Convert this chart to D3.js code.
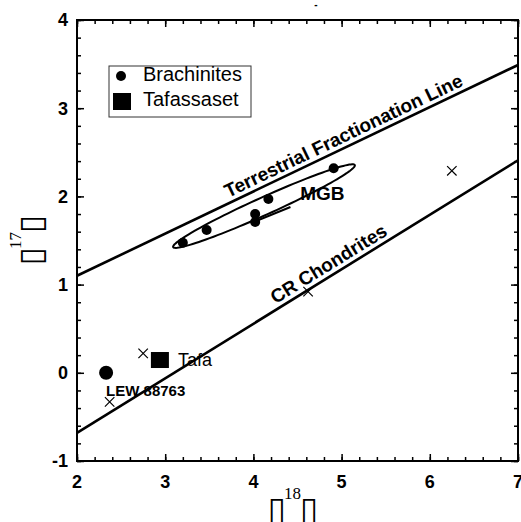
<!DOCTYPE html>
<html>
<head>
<meta charset="utf-8">
<script src="https://cdn.jsdelivr.net/npm/d3@7"></script>
<style>
  body { margin: 0; background: #fff; }
  svg { display: block; }
</style>
</head>
<body>
<div id="chart"></div>
<script>
// values
const brachX = [3.20, 3.47, 4.02, 4.02, 4.17, 4.91];
const brachY = [1.475, 1.62, 1.71, 1.80, 1.97, 2.32];
const lewX = [2.33], lewY = [0.00];
const tafaX = [2.94], tafaY = [0.145];
const crossX = [6.25, 4.62, 2.75, 2.37];
const crossY = [2.29, 0.92, 0.22, -0.33];
const tflX = [2, 7], tflY = [1.10, 3.49];
const crX = [2, 7], crY = [-0.68, 2.41];
const fitX = [3.98, 4.42], fitY = [1.70, 1.88];
const mgbCenter = [4.12, 1.89], mgbAxes = [1.13, 0.10], mgbAngle = 24.3;
const xTicks = [2, 3, 4, 5, 6, 7];
const yTicks = [-1, 0, 1, 2, 3, 4];
const legendLabels = ["Brachinites", "Tafassaset"];

const width = 521, height = 522,
    margin = ({ top: 20, right: 3, bottom: 61, left: 77 });

const svg = d3.select("#chart")
    .append("svg")
    .attr("width", width)
    .attr("height", height)
    .attr("viewBox", [0, 0, width, height]);

const x = d3.scaleLinear()
    .domain([2, 7])
    .range([margin.left, width - margin.right]);

const y = d3.scaleLinear()
    .domain([-1, 4])
    .range([height - margin.bottom, margin.top]);

const sans = "'Liberation Sans', Arial, sans-serif";

// minor + major ticks, all pointing inward
const minorX = d3.range(2, 7.001, 0.2), minorY = d3.range(-1, 4.001, 0.2);

function tickAxis(axis, scale, vals, size, g) {
    g.call(axis(scale).tickValues(vals).tickSize(-size).tickFormat(""))
     .call(g => g.select(".domain").remove())
     .call(g => g.selectAll("line").attr("stroke", "#000").attr("stroke-width", 1.5));
}
const bottomY = y(-1), topY = y(4), leftX = x(2), rightX = x(7);
[[d3.axisBottom, x, `translate(0,${bottomY})`], [d3.axisTop, x, `translate(0,${topY})`],
 [d3.axisLeft, y, `translate(${leftX},0)`], [d3.axisRight, y, `translate(${rightX},0)`]]
  .forEach(([ax, sc, tr]) => {
      const minor = sc === x ? minorX : minorY;
      const major = sc === x ? xTicks : yTicks;
      tickAxis(ax, sc, minor, 4, svg.append("g").attr("transform", tr));
      tickAxis(ax, sc, major, 7, svg.append("g").attr("transform", tr));
  });

// tick labels
svg.append("g")
    .selectAll("text")
    .data(xTicks)
    .join("text")
      .attr("x", d => x(d))
      .attr("y", bottomY + 27)
      .attr("text-anchor", "middle")
      .style("font", `bold 18px ${sans}`)
      .text(d => d);

svg.append("g")
    .selectAll("text")
    .data(yTicks)
    .join("text")
      .attr("x", leftX - 9)
      .attr("y", d => y(d))
      .attr("dy", "0.35em")
      .attr("text-anchor", "end")
      .style("font", `bold 18px ${sans}`)
      .text(d => d);

// frame
svg.append("rect")
    .attr("x", leftX).attr("y", topY)
    .attr("width", rightX - leftX).attr("height", bottomY - topY)
    .attr("fill", "none").attr("stroke", "#000").attr("stroke-width", 2);

// stray title mark
svg.append("text")
    .attr("x", 316).attr("y", 8)
    .attr("text-anchor", "middle")
    .style("font", `bold 10px ${sans}`)
    .text("-");

// axis titles (missing-glyph boxes as in the original)
function axisTitle(sel, sup) {
    sel.attr("text-anchor", "middle")
        .style("font", "bold 33px 'DejaVu Sans'");
    sel.append("tspan").text("\u25AF");
    sel.append("tspan").attr("dx", -2).attr("dy", -21)
        .style("font", "17px 'Liberation Serif'").text(sup);
    sel.append("tspan").attr("dx", -1).attr("dy", 21).text("\u25AF");
}
axisTitle(svg.append("text").attr("x", 293).attr("y", 520), "18");
axisTitle(svg.append("text").attr("transform", "translate(42,240) rotate(-90)"), "17");

// reference lines
const line = d3.line().x(d => x(d[0])).y(d => y(d[1]));
const lines = [[tflX, tflY, 2.6], [crX, crY, 2.6], [fitX, fitY, 2]];
lines.forEach(([xs, ys, w]) => {
    svg.append("path")
        .datum(d3.zip(xs, ys))
        .attr("d", line)
        .attr("fill", "none")
        .attr("stroke", "#000")
        .attr("stroke-width", w);
});

function lineLabel(xs, ys, at, txt, size) {
    const ang = Math.atan2(y(ys[1]) - y(ys[0]), x(xs[1]) - x(xs[0])) * 180 / Math.PI;
    const yAt = ys[0] + (ys[1] - ys[0]) * (at - xs[0]) / (xs[1] - xs[0]);
    svg.append("text")
        .attr("transform", `translate(${x(at)},${y(yAt)}) rotate(${ang})`)
        .attr("dy", -5)
        .style("font", `bold ${size}px ${sans}`)
        .text(txt);
}
lineLabel(tflX, tflY, 3.74, "Terrestrial Fractionation Line", 19);
lineLabel(crX, crY, 4.28, "CR Chondrites", 19);

// MGB ellipse
const th = mgbAngle * Math.PI / 180;
const ell = d3.range(0, 2 * Math.PI, Math.PI / 60).map(t => [
    mgbCenter[0] + mgbAxes[0] * Math.cos(t) * Math.cos(th) - mgbAxes[1] * Math.sin(t) * Math.sin(th),
    mgbCenter[1] + mgbAxes[0] * Math.cos(t) * Math.sin(th) + mgbAxes[1] * Math.sin(t) * Math.cos(th)
]);
svg.append("path")
    .datum(ell)
    .attr("d", line.curve(d3.curveLinearClosed))
    .attr("fill", "none")
    .attr("stroke", "#000")
    .attr("stroke-width", 2);

svg.append("text")
    .attr("x", x(4.53)).attr("y", y(1.96))
    .style("font", `bold 19px ${sans}`)
    .text("MGB");

// crosses
svg.append("g")
    .selectAll("path")
    .data(d3.zip(crossX, crossY))
    .join("path")
      .attr("transform", d => `translate(${x(d[0])},${y(d[1])})`)
      .attr("d", d3.symbol(d3.symbolX, 60))
      .attr("fill", "none")
      .attr("stroke", "#000")
      .attr("stroke-width", 1.2);

// brachinites
svg.append("g")
    .selectAll("circle")
    .data(d3.zip(brachX, brachY))
    .join("circle")
      .attr("cx", d => x(d[0]))
      .attr("cy", d => y(d[1]))
      .attr("r", 5)
      .attr("fill", "#000");

svg.append("circle")
    .attr("cx", x(lewX[0])).attr("cy", y(lewY[0]))
    .attr("r", 7).attr("fill", "#000");
svg.append("text")
    .attr("x", x(lewX[0])).attr("y", y(lewY[0]) + 23)
    .style("font", `bold 15px ${sans}`)
    .text("LEW 88763");

svg.append("rect")
    .attr("x", x(tafaX[0]) - 9).attr("y", y(tafaY[0]) - 8)
    .attr("width", 18).attr("height", 16)
    .attr("fill", "#000");
svg.append("text")
    .attr("x", x(tafaX[0]) + 18).attr("y", y(tafaY[0]) + 6)
    .style("font", `18px ${sans}`)
    .text("Tafa");

// legend
const lg = svg.append("g").attr("transform", "translate(109,66)");
lg.append("rect")
    .attr("width", 142).attr("height", 51)
    .attr("fill", "#fff").attr("stroke", "#333").attr("stroke-width", 1);
lg.append("circle").attr("cx", 12).attr("cy", 10).attr("r", 5).attr("fill", "#000");
lg.append("rect").attr("x", 4).attr("y", 27).attr("width", 18).attr("height", 17).attr("fill", "#000");
lg.selectAll("text.lab")
    .data(legendLabels)
    .join("text")
      .attr("class", "lab")
      .attr("x", 34)
      .attr("y", (d, i) => 15 + i * 25)
      .style("font", `20px ${sans}`)
      .text(d => d);
</script>
</body>
</html>
